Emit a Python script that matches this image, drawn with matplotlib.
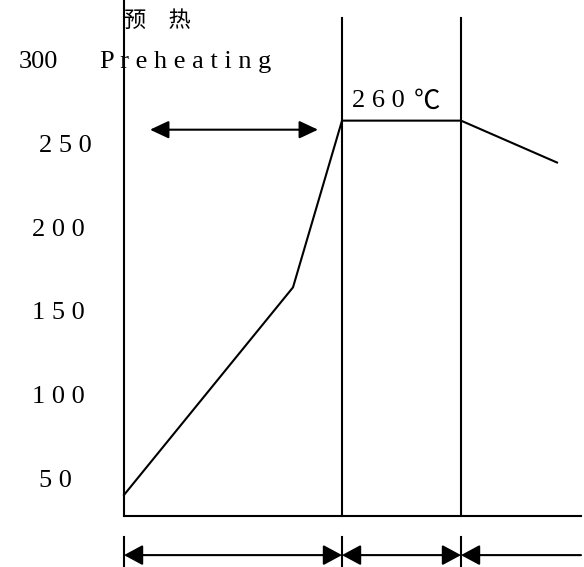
import matplotlib
matplotlib.use("Agg")
import matplotlib.pyplot as plt
from matplotlib.patches import FancyArrowPatch, ArrowStyle

# profile (time in arbitrary units, temperature in degC)
profile_time = [0.0, 16.9, 21.8, 33.7, 43.3]
profile_temp = [41.6, 165.5, 265.0, 265.0, 240.0]

# zone borders along the time axis
zone_edges = [0.0, 21.8, 33.7, 45.7]

# y labels
ytick_values = [300, 250, 200, 150, 100, 50]
ytick_labels = ["300", "2 5 0", "2 0 0", "1 5 0", "1 0 0", "5 0"]
ytick_right = [-6.6, -3.2, -3.9, -3.9, -3.9, -5.2]

axis_base = 29.0
serif = ["Liberation Serif", "DejaVu Serif", "Noto Sans CJK SC"]
cjk = ["Noto Sans CJK SC", "DejaVu Sans"]

fig = plt.figure(figsize=(5.84, 5.67), dpi=100)
ax = fig.add_axes([0, 0, 1, 1])
ax.set_xlim(-12.4, 46.0)
ax.set_ylim(-1.4, 337.0)
ax.axis("off")

lw = 1.5
# axes drawn by hand
ax.plot([0, 0], [axis_base, 337.0], color="black", lw=lw)
ax.plot([0, zone_edges[-1]], [axis_base, axis_base], color="black", lw=lw)
for xe in zone_edges[1:3]:
    ax.plot([xe, xe], [axis_base, 326.0], color="black", lw=lw)

# temperature curve
ax.plot(profile_time, profile_temp, color="black", lw=lw)

# y labels
for v, lab, xr in zip(ytick_values, ytick_labels, ytick_right):
    ax.text(xr, v, lab, ha="right", va="center", fontsize=19, family=serif)

ax.text(0.0, 324.5, "预\u3000热", ha="left", va="center", fontsize=16,
        family=cjk, weight="light")
ax.text(-2.4, 300, "P r e h e a t i n g", ha="left", va="center",
        fontsize=19, family=serif)
ax.text(22.8, 276.5, "2 6 0", ha="left", va="center", fontsize=19,
        family=serif)
ax.text(29.0, 276.5, "℃", ha="left", va="center", fontsize=19,
        family=cjk, weight="light")

def arrow(x0, x1, y, style, hl=11.5, hw=5.5):
    st = ArrowStyle(style, head_length=hl, head_width=hw)
    p = FancyArrowPatch((x0, y), (x1, y), arrowstyle=st, mutation_scale=1,
                        shrinkA=0, shrinkB=0, color="black", lw=lw)
    ax.add_patch(p)

# preheating arrow
arrow(2.6, 19.4, 259.6, "<|-|>", hw=5.4)

# zone arrows at the bottom
yb = 5.7
arrow(zone_edges[0], zone_edges[1], yb, "<|-|>", hw=6.2)
arrow(zone_edges[1], zone_edges[2], yb, "<|-|>", hw=6.2)
arrow(zone_edges[2], zone_edges[3], yb, "<|-", hw=6.2)
for xe in zone_edges[:3]:
    ax.plot([xe, xe], [-1.4, 16.5], color="black", lw=lw)

fig.savefig("out.png", dpi=100)
